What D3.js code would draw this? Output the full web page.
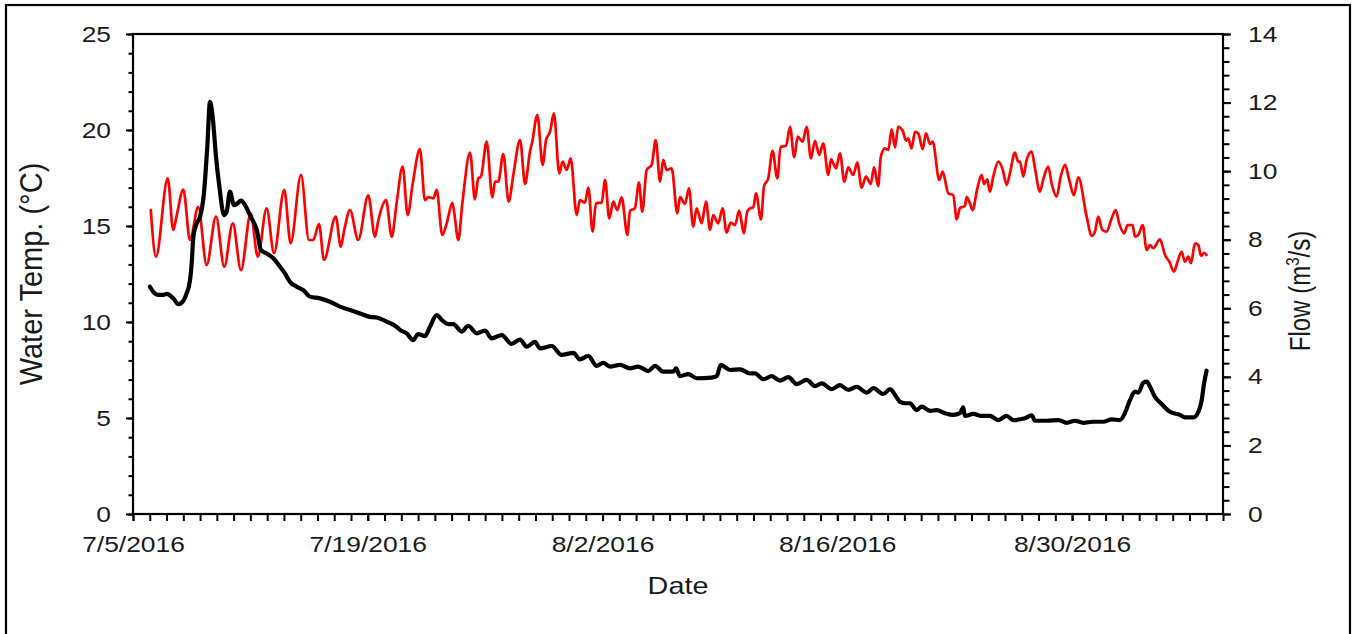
<!DOCTYPE html>
<html>
<head>
<meta charset="utf-8">
<script src="https://cdn.jsdelivr.net/npm/d3@7"></script>
<style>
  body { margin: 0; background: #fff; }
  svg { display: block; }
  text { font-family: "Liberation Sans", Arial, sans-serif; fill: #1a1a1a; }
</style>
</head>
<body>
<svg id="chart" width="1355" height="634"></svg>
<script>
// Stream record, July 5 – Sept 8, 2016. Times are days since the start date.
const startDate = "2016-07-05";
const endDate = "2016-09-08";
const dateTickLabels = ["7/5/2016", "7/19/2016", "8/2/2016", "8/16/2016", "8/30/2016"];
const tempTicks = [0, 5, 10, 15, 20, 25];
const flowTicks = [0, 2, 4, 6, 8, 10, 12, 14];

// Water temperature (°C)
const tempDay = [1.06,1.37,2.07,2.40,2.61,3.00,3.40,3.89,4.39,4.95,5.44,5.95,6.44,7.02,7.44,7.97,8.41,9.02,9.40,10.02,
  10.49,10.75,11.09,11.39,12.09,12.39,12.60,12.94,13.43,14.03,14.43,14.63,15.09,15.43,15.72,16.08,16.38,16.68,17.11,17.41,
  17.61,17.91,18.11,18.44,18.71,19.04,19.16,19.40,19.64,20.10,20.39,20.59,20.75,21.09,21.43,21.59,21.78,22.08,22.40,22.68,
  23.08,23.38,23.67,23.81,24.11,24.43,24.63,24.87,25.10,25.42,25.62,25.86,26.10,26.46,26.65,26.95,27.15,27.41,27.61,27.95,
  28.15,28.40,28.64,28.88,29.14,29.48,29.64,29.93,30.17,30.37,30.63,30.93,31.17,31.43,31.62,31.82,32.12,32.46,32.62,32.92,
  33.15,33.41,33.61,33.91,34.17,34.41,34.60,34.90,35.16,35.40,35.64,35.90,36.15,36.43,36.63,36.79,36.99,37.15,37.45,37.63,
  37.88,38.14,38.42,38.62,38.94,39.18,39.43,39.64,39.93,40.17,40.43,40.67,40.92,41.16,41.46,41.62,41.92,42.16,42.42,42.65,
  42.95,43.19,43.45,43.71,43.99,44.19,44.44,44.59,44.84,45.04,45.24,45.44,45.63,45.90,46.10,46.23,46.43,46.63,46.83,47.09,
  47.29,47.53,47.69,48.08,48.28,48.62,48.91,49.12,49.31,49.61,49.71,49.91,50.07,50.35,50.61,50.75,50.94,51.10,51.30,51.60,
  51.86,52.10,52.30,52.59,52.79,52.89,53.09,53.29,53.59,53.79,54.08,54.28,54.58,54.78,55.08,55.32,55.58,55.83,56.11,56.37,
  56.87,57.17,57.36,57.56,57.80,58.06,58.36,58.60,58.81,59.11,59.31,59.61,59.75,59.95,60.21,60.45,60.65,60.84,61.24,61.54,
  61.80,62.08,62.27,62.53,62.73,62.93,63.09,63.33,63.53,63.69,63.87,64.02];
const tempC = [15.83,13.40,17.48,14.80,15.57,16.90,14.27,16.00,12.97,15.49,12.88,15.14,12.70,15.66,13.40,15.92,13.58,16.88,14.10,17.66,
  14.27,14.27,15.10,13.23,15.49,13.92,14.80,15.83,14.27,16.60,14.44,15.30,16.35,14.44,16.18,18.10,15.57,17.20,19.00,16.35,
  16.50,16.44,16.88,14.53,15.14,16.20,15.66,14.27,16.18,18.82,16.39,17.48,17.57,19.39,16.49,17.31,17.31,18.75,16.27,17.66,
  19.48,17.19,18.87,19.39,20.78,18.18,19.48,19.91,20.87,17.74,18.35,17.92,18.52,15.57,16.35,16.22,17.00,14.71,16.18,16.22,
  17.40,15.40,16.27,15.83,16.49,14.53,15.80,15.92,17.26,15.75,17.92,18.18,19.48,17.31,18.44,17.92,18.00,15.66,16.50,16.15,
  16.96,14.96,15.92,15.14,16.27,14.80,15.57,15.14,15.92,14.66,15.17,15.05,15.80,14.62,15.75,15.92,15.97,16.70,15.35,17.08,
  17.48,18.92,17.48,19.13,19.17,20.17,18.58,19.65,19.39,20.17,18.52,19.44,18.70,19.30,17.66,18.47,18.00,18.78,17.31,18.05,
  17.66,18.30,17.00,17.57,17.19,18.05,17.08,18.58,19.04,18.96,20.03,19.10,20.17,19.96,19.44,19.57,19.04,19.91,19.82,19.00,
  19.82,19.27,19.39,17.40,17.83,16.70,16.61,15.35,15.92,16.04,16.50,16.18,15.83,16.96,17.66,17.19,17.43,16.79,17.57,18.35,
  17.95,17.14,17.78,18.82,18.35,18.35,17.57,18.44,18.87,18.00,16.79,17.43,18.09,17.22,16.53,17.57,18.18,17.40,16.61,17.54,
  15.49,14.48,14.70,15.49,14.80,14.70,15.40,15.83,15.14,14.62,15.05,15.05,14.44,14.53,15.05,13.75,14.00,13.84,14.30,13.49,
  13.14,12.62,13.09,13.66,13.14,13.40,13.06,14.10,14.01,13.44,13.60,13.49];

// Discharge (m³/s)
const flowDay = [1.01,1.21,1.51,1.81,2.01,2.40,2.70,2.96,3.20,3.40,3.50,3.60,3.80,4.00,4.23,4.43,4.59,4.75,4.95,5.15,
  5.43,5.59,5.78,6.02,6.22,6.44,6.68,7.02,7.38,7.63,7.97,8.37,8.77,9.06,9.36,9.76,10.16,10.55,11.15,11.75,
  12.34,12.94,13.54,14.13,14.53,15.13,15.72,15.92,16.32,16.71,17.01,17.41,17.71,18.11,18.41,18.80,19.10,19.60,19.99,20.50,
  20.99,21.39,21.99,22.58,23.08,23.48,23.97,24.27,24.97,25.56,26.26,26.65,27.15,27.65,28.04,28.44,29.04,29.64,30.13,30.73,
  31.13,31.62,32.22,32.38,32.62,33.11,33.61,34.51,34.81,35.05,35.60,36.20,36.79,37.09,37.59,38.09,38.58,39.08,39.58,40.17,
  40.67,41.07,41.66,42.16,42.65,43.16,43.75,44.15,44.74,45.14,45.54,45.74,46.04,46.33,46.73,47.03,47.53,47.93,48.42,48.92,
  49.31,49.51,49.61,50.11,50.61,51.10,51.60,52.10,52.49,53.19,53.59,53.79,54.49,55.18,55.68,56.17,56.67,57.26,57.86,58.36,
  58.86,59.15,59.45,59.75,59.95,60.25,60.45,60.65,60.94,61.34,61.84,62.43,62.73,63.23,63.53,63.73,63.87,64.02];
const flowM3s = [6.63,6.48,6.39,6.39,6.42,6.29,6.12,6.19,6.44,6.82,7.31,8.09,8.48,8.67,9.35,10.71,12.02,11.59,10.42,9.55,
  8.72,8.82,9.40,9.01,9.06,9.14,9.01,8.67,8.28,7.70,7.60,7.46,7.21,7.02,6.77,6.63,6.53,6.34,6.29,6.19,
  6.05,5.95,5.85,5.75,5.73,5.61,5.46,5.37,5.27,5.07,5.25,5.19,5.46,5.80,5.66,5.54,5.54,5.32,5.49,5.27,
  5.35,5.12,5.22,4.96,5.09,4.88,5.02,4.83,4.90,4.64,4.70,4.51,4.61,4.32,4.41,4.30,4.35,4.25,4.30,4.17,
  4.32,4.15,4.15,4.25,4.02,4.08,3.96,3.98,4.02,4.35,4.20,4.22,4.10,4.10,3.93,4.02,3.89,3.99,3.79,3.91,
  3.73,3.81,3.64,3.76,3.62,3.71,3.54,3.67,3.50,3.64,3.40,3.27,3.23,3.23,3.03,3.13,3.01,3.03,2.94,2.89,
  2.94,3.11,2.86,2.92,2.86,2.86,2.74,2.86,2.74,2.79,2.88,2.72,2.72,2.74,2.66,2.72,2.66,2.69,2.69,2.76,
  2.74,2.94,3.32,3.57,3.54,3.83,3.86,3.71,3.42,3.21,2.98,2.89,2.82,2.82,2.98,3.32,3.81,4.18];

const DAY = 864e5;
const t0 = new Date(startDate + "T00:00:00Z");
const toDate = d => new Date(t0.getTime() + d * DAY);
const parseTick = d3.utcParse("%m/%d/%Y");
const fmtTick = d3.utcFormat("%-m/%-d/%Y");

const svg = d3.select("#chart");
const plot = { left: 133, right: 1223, top: 34, bottom: 514 };
const textStretch = 1.2; // glyphs are drawn wider than tall

// outer frame
svg.append("rect").attr("x", 6).attr("y", 5).attr("width", 1344).attr("height", 660)
  .attr("fill", "none").attr("stroke", "#000").attr("stroke-width", 2.2);

const x = d3.scaleUtc().domain([t0, new Date(endDate + "T00:00:00Z")]).range([plot.left, plot.right]);
const yT = d3.scaleLinear().domain([0, 25]).range([plot.bottom, plot.top]);
const yQ = d3.scaleLinear().domain([0, 14]).range([plot.bottom, plot.top]);

const axisStyle = g => {
  g.select(".domain").remove();
  g.selectAll(".tick line").attr("stroke", "#000").attr("stroke-width", 2);
};
const stretchLabels = g => {
  g.selectAll(".tick text").each(function () {
    const t = d3.select(this);
    const tx = +(t.attr("x") || 0);
    t.attr("x", tx / textStretch).attr("transform", `scale(${textStretch},1)`);
  });
};

// minor ticks
svg.append("g").attr("transform", `translate(${plot.left},0)`)
  .call(d3.axisLeft(yT).tickValues(d3.range(0, 25.01, 1)).tickSize(4.5).tickFormat(""))
  .call(axisStyle);
svg.append("g").attr("transform", `translate(${plot.right},0)`)
  .call(d3.axisRight(yQ).tickValues(d3.range(0, 14.01, 0.4)).tickSize(6.5).tickFormat(""))
  .call(axisStyle);
svg.append("g").attr("transform", `translate(0,${plot.bottom})`)
  .call(d3.axisBottom(x).tickValues(d3.range(0, 66).map(toDate)).tickSize(7).tickFormat(""))
  .call(axisStyle);

// major ticks with labels
const gL = svg.append("g").attr("transform", `translate(${plot.left},0)`)
  .call(d3.axisLeft(yT).tickValues(tempTicks).tickSize(7).tickPadding(15))
  .call(axisStyle);
const gR = svg.append("g").attr("transform", `translate(${plot.right},0)`)
  .call(d3.axisRight(yQ).tickValues(flowTicks).tickSize(8).tickPadding(17))
  .call(axisStyle);
const gB = svg.append("g").attr("transform", `translate(0,${plot.bottom})`)
  .call(d3.axisBottom(x).tickValues(dateTickLabels.map(parseTick)).tickSize(7).tickPadding(15).tickFormat(fmtTick))
  .call(axisStyle);
[gL, gR, gB].forEach(g => {
  g.selectAll(".tick text").attr("font-size", 22).attr("fill", "#1a1a1a");
  g.call(stretchLabels);
});

// plot frame
svg.append("rect").attr("x", plot.left).attr("y", plot.top)
  .attr("width", plot.right - plot.left).attr("height", plot.bottom - plot.top)
  .attr("fill", "none").attr("stroke", "#000").attr("stroke-width", 2.2);

// series
const tempLine = d3.line().curve(d3.curveMonotoneX)
  .x((d, i) => x(toDate(tempDay[i]))).y(d => yT(d));
const flowLine = d3.line().curve(d3.curveMonotoneX)
  .x((d, i) => x(toDate(flowDay[i]))).y(d => yQ(d));

svg.append("path").attr("d", tempLine(tempC))
  .attr("fill", "none").attr("stroke", "#ff0000").attr("stroke-width", 2.7)
  .attr("stroke-linejoin", "round").attr("stroke-linecap", "round");
svg.append("path").attr("d", flowLine(flowM3s))
  .attr("fill", "none").attr("stroke", "#000").attr("stroke-width", 4.2)
  .attr("stroke-linejoin", "round").attr("stroke-linecap", "round");

// axis titles
svg.append("text").attr("font-size", 24).attr("text-anchor", "middle")
  .attr("transform", `translate(${(plot.left + plot.right) / 2},594) scale(${textStretch},1)`)
  .text("Date");
svg.append("text").attr("font-size", 29).attr("text-anchor", "middle")
  .attr("transform", `translate(42,274) scale(1.1,1) rotate(-90)`)
  .text("Water Temp. (°C)");
const flowTitle = svg.append("text").attr("font-size", 24).attr("text-anchor", "middle")
  .attr("transform", `translate(1310,291) scale(${textStretch},1) rotate(-90)`);
flowTitle.append("tspan").text("Flow (m");
flowTitle.append("tspan").attr("font-size", 15).attr("dy", -9).text("3");
flowTitle.append("tspan").attr("dy", 9).text("/s)");
</script>
</body>
</html>
